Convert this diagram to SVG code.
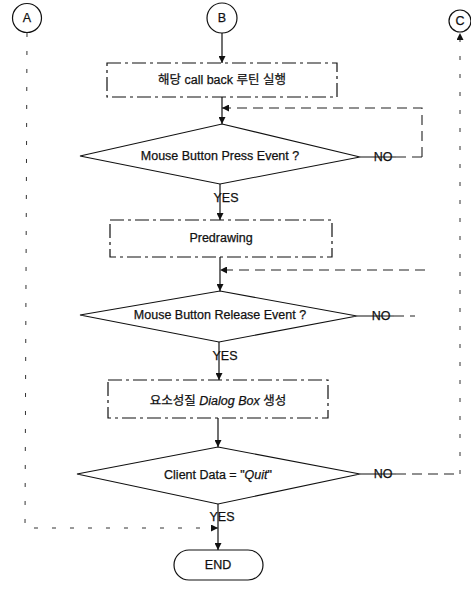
<svg xmlns="http://www.w3.org/2000/svg" width="471" height="591" viewBox="0 0 471 591">
<defs>
<marker id="arr" viewBox="0 0 10 10" refX="10" refY="5" markerWidth="7" markerHeight="7" orient="auto" markerUnits="userSpaceOnUse">
<path d="M0,0 L10,5 L0,10 z" fill="#111"/>
</marker>
<style>
.t{font-family:"Liberation Sans","Noto Sans CJK KR",Arial,sans-serif;font-size:12.5px;fill:#111;stroke:#111;stroke-width:0.25;text-anchor:middle;dominant-baseline:central}
.s{fill:none;stroke:#111;stroke-width:1.2}
.box{fill:#fff;stroke:#111;stroke-width:1.2;stroke-dasharray:14 4 3 4}
.d{fill:#fff;stroke:#111;stroke-width:1.1}
.dash{fill:none;stroke:#222;stroke-width:1.1;stroke-dasharray:10 6}
.dot{fill:none;stroke:#333;stroke-width:1;stroke-dasharray:4 14}
</style>
</defs>
<rect width="471" height="591" fill="#fff"/>
<g id="connectors">
<line class="s" x1="222" y1="33" x2="222" y2="63" marker-end="url(#arr)"/>
<line class="s" x1="222" y1="97" x2="222" y2="124" marker-end="url(#arr)"/>
<polyline class="dash" points="422,157 422,108 222,108" marker-end="url(#arr)"/>
<line class="s" x1="360" y1="157" x2="396" y2="157"/>
<line class="dash" x1="396" y1="157" x2="422" y2="157"/>
<line class="s" x1="220" y1="184" x2="220" y2="220" marker-end="url(#arr)"/>
<line class="s" x1="220" y1="257" x2="220" y2="291" marker-end="url(#arr)"/>
<polyline class="dash" points="425,270 220,270" marker-end="url(#arr)"/>
<line class="s" x1="357" y1="316" x2="394" y2="316"/>
<line class="dash" x1="394" y1="316" x2="415" y2="316"/>
<line class="s" x1="219" y1="342" x2="219" y2="380" marker-end="url(#arr)"/>
<line class="s" x1="218" y1="418" x2="218" y2="447" marker-end="url(#arr)"/>
<line class="s" x1="360" y1="474" x2="396" y2="474"/>
<polyline class="dash" points="396,474 460,474"/>
<polyline class="dot" points="460,474 460,33" marker-end="url(#arr)"/>
<line class="s" x1="218" y1="504" x2="218" y2="530"/>
<polyline class="dot" points="27,33 25,528 218,528" marker-end="url(#arr)"/>
<line class="s" x1="218" y1="530" x2="218" y2="550" marker-end="url(#arr)"/>
</g>
<g id="nodeA"><circle class="s" cx="27" cy="18" r="14.5" fill="#fff"/><text class="t" x="27" y="18">A</text></g>
<g id="nodeB"><circle class="s" cx="222" cy="18" r="15" fill="#fff"/><text class="t" x="222" y="18">B</text></g>
<g id="nodeC"><circle class="s" cx="460" cy="21" r="11" fill="#fff"/><text class="t" x="460" y="21">C</text></g>
<g id="box1"><rect class="box" x="107" y="63" width="230" height="34"/><text class="t" x="222" y="80">해당 call back 루틴 실행</text></g>
<g id="dec1"><polygon class="d" points="222,124 360,157 220,184 80,156"/><text class="t" x="220" y="156">Mouse Button Press Event ?</text><text class="t" x="383" y="157">NO</text><text class="t" x="226" y="198">YES</text></g>
<g id="box2"><rect class="box" x="110" y="220" width="222" height="37"/><text class="t" x="221" y="238">Predrawing</text></g>
<g id="dec2"><polygon class="d" points="220,291 357,316 219,342 80,315"/><text class="t" x="220" y="315">Mouse Button Release Event ?</text><text class="t" x="381" y="316">NO</text><text class="t" x="225" y="356">YES</text></g>
<g id="box3"><rect class="box" x="108" y="380" width="220" height="38"/><text class="t" x="218" y="401">요소성질 <tspan font-style="italic">Dialog Box</tspan> 생성</text></g>
<g id="dec3"><polygon class="d" points="218,447 360,474 218,504 77,474"/><text class="t" x="218" y="475">Client Data = "<tspan font-style="italic">Quit</tspan>"</text><text class="t" x="383" y="474">NO</text><text class="t" x="222" y="517">YES</text></g>
<g id="end"><rect class="s" x="174" y="550" width="89" height="30" rx="15" fill="#fff"/><text class="t" x="218" y="565">END</text></g>
</svg>
